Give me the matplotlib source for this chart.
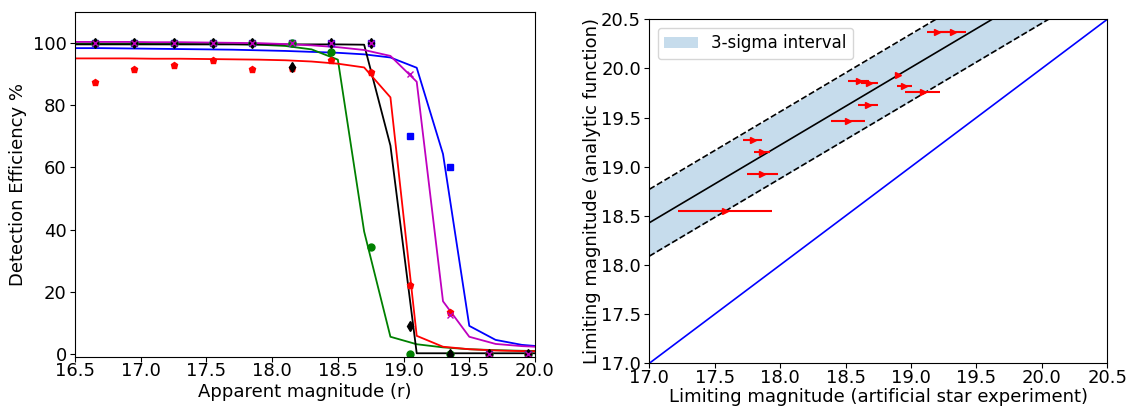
import matplotlib
matplotlib.use("Agg")
import matplotlib.pyplot as plt
import numpy as np

# ---------------- Left panel data ----------------
mag_points = [16.65, 16.95, 17.25, 17.55, 17.85, 18.15, 18.45, 18.75, 19.05, 19.35, 19.65, 19.95]
eff_blue = [100, 100, 100, 100, 100, 100, 100, 100, 70.0, 60.2, 0, 0]
eff_green = [100, 100, 100, 100, 100, 100, 97.1, 34.5, 0, 0, 0, 0]
eff_black = [100, 100, 100, 100, 100, 92.1, 100, 100, 9.2, 0, 0, 0]
eff_magenta = [100, 100, 100, 100, 100, 100, 100, 100, 90.0, 12.6, 0, 0]
eff_red = [87.5, 91.7, 92.8, 94.4, 91.7, 92.0, 94.4, 90.7, 22.1, 13.4, 0, 0]

mag_grid = [16.5, 16.7, 16.9, 17.1, 17.3, 17.5, 17.7, 17.9, 18.1, 18.3,
            18.5, 18.7, 18.9, 19.1, 19.3, 19.5, 19.7, 19.9, 20.1]
fit_blue = [98.3, 98.3, 98.2, 98.1, 98.0, 97.9, 97.8, 97.6, 97.4, 97.1,
            96.8, 96.3, 95.3, 92.0, 64.3, 9.1, 4.6, 3.0, 2.3]
fit_green = [99.8, 99.8, 99.8, 99.8, 99.7, 99.7, 99.6, 99.4, 99.0, 97.9,
             94.6, 39.4, 5.6, 3.2, 2.2, 1.6, 1.3, 1.1, 1.0]
fit_red = [95.0, 95.0, 95.0, 94.9, 94.9, 94.8, 94.7, 94.6, 94.4, 94.0,
           93.3, 92.1, 82.5, 5.9, 2.4, 1.6, 1.2, 1.0, 0.9]
fit_black = [99.5, 99.5, 99.5, 99.5, 99.5, 99.5, 99.5, 99.5, 99.5, 99.5,
             99.5, 99.4, 67.0, 0.3, 0.3, 0.3, 0.3, 0.3, 0.3]
fit_magenta = [100.3, 100.3, 100.3, 100.2, 100.2, 100.1, 100.0, 99.9, 99.6, 99.2,
               98.6, 97.7, 95.8, 87.5, 17.0, 5.6, 3.3, 2.6, 2.2]

# ---------------- Right panel data ----------------
lim_artificial = [19.20, 19.32, 18.90, 18.60, 18.68, 18.95, 19.09, 18.67, 18.52, 17.79, 17.86, 17.865, 17.58]
lim_analytic = [20.37, 20.37, 19.93, 19.87, 19.85, 19.82, 19.76, 19.63, 19.47, 19.27, 19.15, 18.93, 18.55]
lim_xerr = [0.08, 0.10, 0.02, 0.08, 0.065, 0.055, 0.135, 0.075, 0.13, 0.075, 0.06, 0.115, 0.36]
fit_slope = 0.79
fit_intercept = 5.0
sigma3 = 0.34

FS = 13

fig = plt.figure(figsize=(11.3, 4.08), dpi=100)
W, H = 1130, 408
ax1 = fig.add_axes([75 / W, (H - 356.7) / H, 460 / W, 345 / H])
ax2 = fig.add_axes([649.3 / W, (H - 363.3) / H, 458 / W, 344 / H])

# Left panel
ms = 5
ax1.plot(mag_grid, fit_blue, color='b', lw=1.3)
ax1.plot(mag_grid, fit_green, color='g', lw=1.3)
ax1.plot(mag_grid, fit_black, color='k', lw=1.3)
ax1.plot(mag_grid, fit_magenta, color='m', lw=1.3)
ax1.plot(mag_grid, fit_red, color='r', lw=1.3)
ax1.plot(mag_points, eff_blue, 's', color='b', ms=ms, ls='none')
ax1.plot(mag_points, eff_green, 'o', color='g', ms=ms, ls='none')
ax1.plot(mag_points, eff_red, 'p', color='r', ms=ms, ls='none')
ax1.plot(mag_points, eff_black, 'd', color='k', ms=ms, ls='none')
ax1.plot(mag_points, eff_magenta, 'x', color='m', ms=ms, ls='none')
ax1.set_xlim(16.5, 20.0)
ax1.set_ylim(-0.8, 110)
ax1.set_xticks(np.arange(16.5, 20.01, 0.5))
ax1.set_yticks([0, 20, 40, 60, 80, 100])
ax1.set_xlabel('Apparent magnitude (r)', fontsize=FS, labelpad=2)
ax1.set_ylabel('Detection Efficiency %', fontsize=FS, labelpad=4)

# Right panel
xx = np.array([17.0, 20.5])
yy = fit_slope * xx + fit_intercept
ax2.fill_between(xx, yy - sigma3, yy + sigma3, color='C0', alpha=0.25, lw=0,
                 label='3-sigma interval')
ax2.plot(xx, yy, color='k', lw=1.2)
ax2.plot(xx, yy + sigma3, color='k', ls='--', lw=1.2)
ax2.plot(xx, yy - sigma3, color='k', ls='--', lw=1.2)
ax2.plot(xx, xx, color='b', lw=1.2)
ax2.errorbar(lim_artificial, lim_analytic, xerr=lim_xerr, fmt='>', color='r',
             ecolor='r', ms=5, elinewidth=1.5, capsize=0)
ax2.set_xlim(17.0, 20.5)
ax2.set_ylim(17.0, 20.5)
ax2.set_xticks(np.arange(17.0, 20.51, 0.5))
ax2.set_yticks(np.arange(17.0, 20.51, 0.5))
ax2.set_xlabel('Limiting magnitude (artificial star experiment)', fontsize=FS, labelpad=1)
ax2.set_ylabel('Limiting magnitude (analytic function)', fontsize=FS, labelpad=0)
ax2.legend(loc='upper left', fontsize=FS - 1)

for ax in (ax1, ax2):
    ax.tick_params(axis='x', labelsize=FS, pad=0.5)
    ax.tick_params(axis='y', labelsize=FS, pad=2.5)

fig.savefig('out.png', dpi=100)
